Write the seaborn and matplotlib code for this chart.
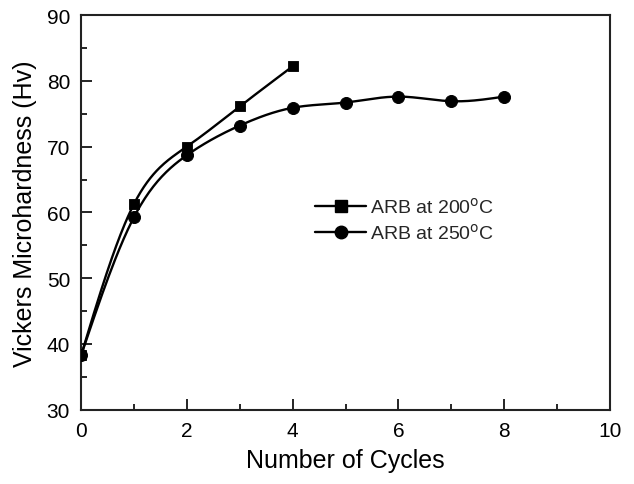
import numpy as np
import pandas as pd
import seaborn as sns
import matplotlib
matplotlib.use("Agg")
import matplotlib.pyplot as plt
from matplotlib.lines import Line2D

cycles_200 = [0, 1, 2, 3, 4]
hv_200 = [38.3, 61.3, 70.0, 76.1, 82.2]
cycles_250 = [0, 1, 2, 3, 4, 5, 6, 7, 8]
hv_250 = [38.3, 59.3, 68.7, 73.2, 75.9, 76.7, 77.6, 76.9, 77.6]
labels = ["ARB at 200$^{\\mathrm{o}}$C", "ARB at 250$^{\\mathrm{o}}$C"]


def spline_curve(x, y, n=200):
    # natural cubic spline through the points, for the smooth connecting line
    x = np.asarray(x, float)
    y = np.asarray(y, float)
    k = len(x)
    h = np.diff(x)
    A = np.zeros((k, k))
    b = np.zeros(k)
    A[0, 0] = A[-1, -1] = 1
    for i in range(1, k - 1):
        A[i, i - 1] = h[i - 1]
        A[i, i] = 2 * (h[i - 1] + h[i])
        A[i, i + 1] = h[i]
        b[i] = 6 * ((y[i + 1] - y[i]) / h[i] - (y[i] - y[i - 1]) / h[i - 1])
    m = np.linalg.solve(A, b)
    xs = np.linspace(x[0], x[-1], n)
    idx = np.clip(np.searchsorted(x, xs) - 1, 0, k - 2)
    x0, x1 = x[idx], x[idx + 1]
    hh = x1 - x0
    t0 = x1 - xs
    t1 = xs - x0
    ys = (m[idx] * t0**3 + m[idx + 1] * t1**3) / (6 * hh) \
        + (y[idx] / hh - m[idx] * hh / 6) * t0 \
        + (y[idx + 1] / hh - m[idx + 1] * hh / 6) * t1
    return xs, ys


sns.set_theme(style="ticks")
plt.rcParams['font.family'] = ['Liberation Sans', 'DejaVu Sans']

fig, ax = plt.subplots(figsize=(6.34, 4.85), dpi=100)
fig.subplots_adjust(left=0.128, right=0.962, top=0.967, bottom=0.153)

df200 = pd.DataFrame({"x": cycles_200, "y": hv_200})
df250 = pd.DataFrame({"x": cycles_250, "y": hv_250})

xs, ys = spline_curve(cycles_200, hv_200)
sns.lineplot(x=xs, y=ys, ax=ax, color="black", lw=1.7, estimator=None, sort=False)
xs, ys = spline_curve(cycles_250, hv_250)
sns.lineplot(x=xs, y=ys, ax=ax, color="black", lw=1.7, estimator=None, sort=False)

sns.scatterplot(data=df200, x="x", y="y", ax=ax, marker="s", s=60, color="black",
                edgecolor="black", zorder=3)
sns.scatterplot(data=df250, x="x", y="y", ax=ax, marker="o", s=75, color="black",
                edgecolor="black", zorder=3)

ax.set_xlim(0, 10)
ax.set_ylim(30, 90)
ax.set_xticks(range(0, 11, 2))
ax.set_xticks(range(1, 10, 2), minor=True)
ax.set_yticks(range(30, 91, 10))
ax.set_yticks(range(35, 90, 10), minor=True)
ax.tick_params(which="both", direction="in", top=False, right=False, labelsize=15,
               color="black", labelcolor="black", width=1.2)
ax.tick_params(which="major", length=8, pad=8)
ax.tick_params(which="minor", length=4)
for s in ax.spines.values():
    s.set_linewidth(1.5)
    s.set_color("#222222")

ax.set_xlabel("Number of Cycles", fontsize=18, labelpad=6, color="black")
ax.set_ylabel("Vickers Microhardness (Hv)", fontsize=18, labelpad=7, color="black")

handles = [Line2D([], [], color="black", lw=1.7, marker="s", markersize=8),
           Line2D([], [], color="black", lw=1.7, marker="o", markersize=9)]
ax.legend(handles, labels, loc="center left", bbox_to_anchor=(0.41, 0.482),
          frameon=False, fontsize=14, handlelength=2.6, handletextpad=0.2,
          labelspacing=0.3)

fig.savefig("out.png", dpi=100)
